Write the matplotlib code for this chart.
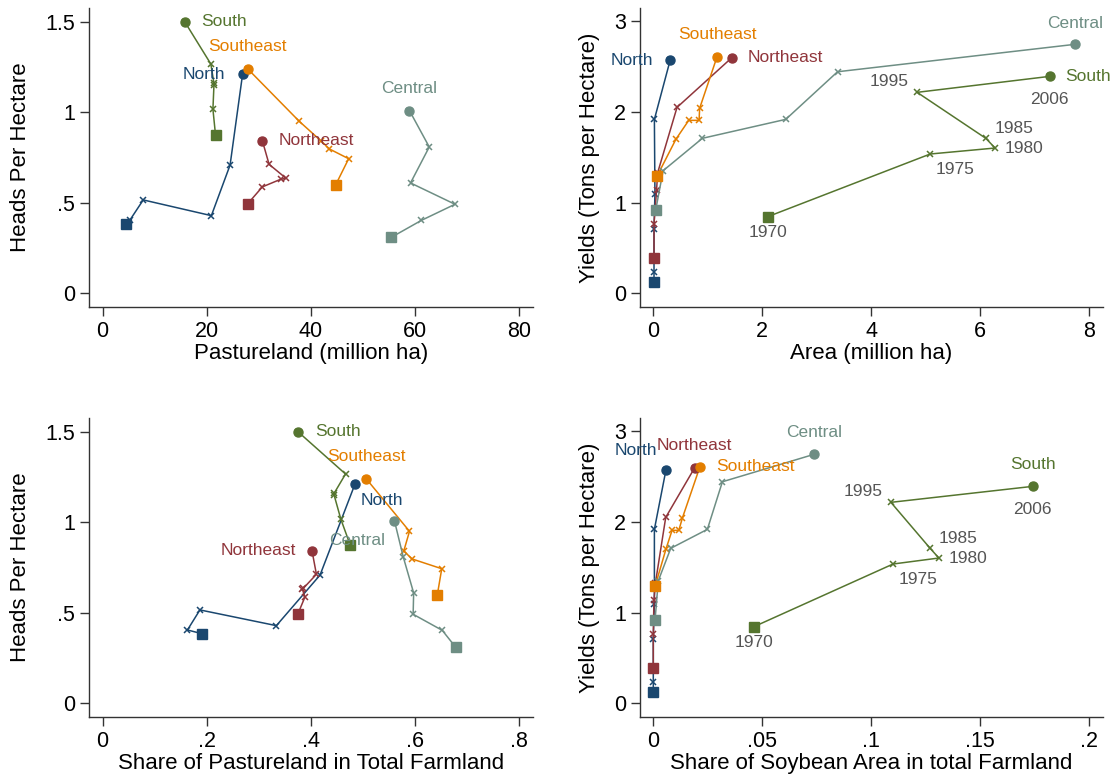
import matplotlib
matplotlib.use("Agg")
import matplotlib.pyplot as plt

plt.rcParams['font.family'] = ['Liberation Sans', 'DejaVu Sans']

# years: 1970, 1975, 1980, 1985, 1995, 2006 (square = first, circle = last)
years = ["1970", "1975", "1980", "1985", "1995", "2006"]
regions = ["North", "Northeast", "Southeast", "Central", "South"]
colors = {"North": "#1a476f", "Northeast": "#90353b", "Southeast": "#e37e00",
          "Central": "#6e8e84", "South": "#55752f"}

pasture = {"North": [4.5, 5.25, 7.8, 20.9, 24.5, 26.9],
           "Northeast": [27.9, 30.7, 34.2, 35.25, 32.0, 30.7],
           "Southeast": [44.8, 47.3, 43.6, 42.0, 37.8, 27.9],
           "Central": [55.5, 61.3, 67.75, 59.2, 62.8, 59.0],
           "South": [21.7, 21.2, 21.4, 21.4, 20.8, 15.8]}
heads = {"North": [0.383, 0.404, 0.515, 0.428, 0.708, 1.21],
         "Northeast": [0.494, 0.587, 0.629, 0.635, 0.712, 0.843],
         "Southeast": [0.598, 0.743, 0.797, 0.841, 0.950, 1.240],
         "Central": [0.308, 0.402, 0.491, 0.609, 0.808, 1.009],
         "South": [0.874, 1.017, 1.151, 1.16, 1.267, 1.50]}
share_pasture = {"North": [0.1916, 0.163, 0.187, 0.334, 0.418, 0.485],
                 "Northeast": [0.3756, 0.389, 0.384, 0.386, 0.411, 0.4025],
                 "Southeast": [0.6435, 0.652, 0.595, 0.579, 0.590, 0.507],
                 "Central": [0.679, 0.653, 0.597, 0.598, 0.578, 0.561],
                 "South": [0.476, 0.458, 0.445, 0.445, 0.467, 0.376]}
soy_area = {"North": [0.013, 0.013, 0.013, 0.03, 0.02, 0.31],
            "Northeast": [0.013, 0.013, 0.06, 0.08, 0.435, 1.44],
            "Southeast": [0.073, 0.416, 0.65, 0.84, 0.85, 1.17],
            "Central": [0.044, 0.18, 0.90, 2.43, 3.38, 7.73],
            "South": [2.10, 5.08, 6.27, 6.10, 4.84, 7.27]}
yields = {"North": [0.125, 0.238, 0.712, 1.10, 1.918, 2.572],
          "Northeast": [0.386, 0.764, 1.139, 1.33, 2.05, 2.598],
          "Southeast": [1.297, 1.70, 1.907, 1.907, 2.04, 2.609],
          "Central": [0.918, 1.352, 1.709, 1.918, 2.443, 2.745],
          "South": [0.845, 1.536, 1.602, 1.709, 2.216, 2.392]}
share_soy = {"North": [0.0, 0.0, 0.0, 0.0005, 0.0005, 0.0058],
             "Northeast": [0.0, 0.0, 0.0003, 0.001, 0.0057, 0.019],
             "Southeast": [0.0009, 0.0058, 0.0086, 0.0117, 0.0133, 0.0214],
             "Central": [0.0008, 0.0023, 0.008, 0.0248, 0.0317, 0.0737],
             "South": [0.0462, 0.110, 0.131, 0.127, 0.109, 0.174]}

# label placement per panel: (ha, dx px, dy px) relative to the 2006 marker
lab1 = {"South": ("left", 16, 0), "Southeast": ("center", 0, 22), "North": ("right", -17, 0),
        "Central": ("center", 0, 22), "Northeast": ("left", 16, 0)}
lab2 = {"South": ("left", 16, 0), "Southeast": ("center", 0, 22), "North": ("right", -17, 0),
        "Central": ("center", 0, 21), "Northeast": ("left", 16, 0)}
lab3 = {"South": ("left", 17, 0), "Southeast": ("center", 0, 22), "North": ("center", 27, -16),
        "Central": ("center", -37, -20), "Northeast": ("right", -16, 0)}
lab4 = {"South": ("center", 0, 22), "Southeast": ("left", 16, 0), "North": ("center", -30, 20),
        "Central": ("center", 0, 22), "Northeast": ("center", 0, 22)}
year_pos = [("center", 0, -16), ("center", 25, -15), ("left", 10, 0),
            ("center", 28, 10), ("center", -28, 11), ("center", 0, -23)]

W, H = 1116, 778
fig = plt.figure(figsize=(W / 100, H / 100), dpi=100)


def panel(box, xs, ys, labs, xlim, ylim, xt, xtl, yt, ytl, xlabel, ylabel, years_on=False):
    l, t, r, b = box
    ax = fig.add_axes([l / W, 1 - b / H, (r - l) / W, (b - t) / H])
    for reg in regions:
        c = colors[reg]
        x, y = xs[reg], ys[reg]
        ax.plot(x, y, color=c, lw=1.1, marker="x", ms=4, mew=1.1, zorder=2)
        ax.plot(x[0], y[0], color=c, marker="s", ms=6.5, ls="none", zorder=3)
        ax.plot(x[-1], y[-1], color=c, marker="o", ms=6.5, ls="none", zorder=3)
        ha, dx, dy = labs[reg]
        ax.annotate(reg, (x[-1], y[-1]), xytext=(dx, dy), textcoords="offset pixels",
                    ha=ha, va="center", color=c, fontsize=12.5, zorder=5)
    if years_on:
        for i, yr in enumerate(years):
            ha, dx, dy = year_pos[i]
            ax.annotate(yr, (xs["South"][i], ys["South"][i]), xytext=(dx, dy),
                        textcoords="offset pixels", ha=ha, va="center",
                        color="#555555", fontsize=12.5, zorder=5)
    ax.set_xlim(xlim)
    ax.set_ylim(ylim)
    ax.set_xticks(xt)
    ax.set_xticklabels(xtl)
    ax.set_yticks(yt)
    ax.set_yticklabels(ytl)
    for s in ["top", "right"]:
        ax.spines[s].set_visible(False)
    for s in ["left", "bottom"]:
        ax.spines[s].set_color("#333333")
        ax.spines[s].set_linewidth(1.0)
    ax.tick_params(length=6.5, width=1.0, color="#333333", labelsize=15.5, pad=3.5)
    ax.set_xlabel(xlabel, fontsize=16, labelpad=1)
    ax.set_ylabel(ylabel, fontsize=16, labelpad=10)
    return ax


heads_t = [0, 0.5, 1, 1.5]
heads_tl = ["0", ".5", "1", "1.5"]
yield_t = [0, 1, 2, 3]
yield_tl = ["0", "1", "2", "3"]

panel((89, 8, 533, 307), pasture, heads, lab1, (-2.63, 82.75), (-0.0775, 1.577),
      [0, 20, 40, 60, 80], ["0", "20", "40", "60", "80"], heads_t, heads_tl,
      "Pastureland (million ha)", "Heads Per Hectare")
panel((640, 8, 1103, 307), soy_area, yields, lab2, (-0.244, 8.25), (-0.151, 3.146),
      [0, 2, 4, 6, 8], ["0", "2", "4", "6", "8"], yield_t, yield_tl,
      "Area (million ha)", "Yields (Tons per Hectare)", years_on=True)
panel((89, 418, 533, 717), share_pasture, heads, lab3, (-0.0263, 0.8275), (-0.0775, 1.577),
      [0, 0.2, 0.4, 0.6, 0.8], ["0", ".2", ".4", ".6", ".8"], heads_t, heads_tl,
      "Share of Pastureland in Total Farmland", "Heads Per Hectare")
panel((640, 418, 1103, 717), share_soy, yields, lab4, (-0.0061, 0.2063), (-0.151, 3.146),
      [0, 0.05, 0.1, 0.15, 0.2], ["0", ".05", ".1", ".15", ".2"], yield_t, yield_tl,
      "Share of Soybean Area in total Farmland", "Yields (Tons per Hectare)", years_on=True)

fig.savefig("out.png", dpi=100)
